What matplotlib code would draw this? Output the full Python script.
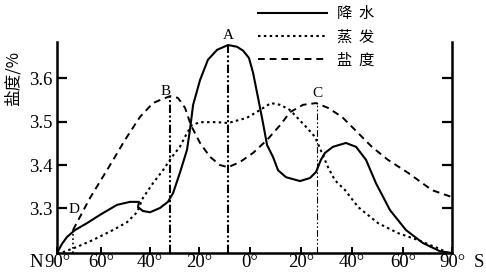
import numpy as np
import matplotlib
matplotlib.use("Agg")
import matplotlib.pyplot as plt

# latitude runs left to right: north is negative, south positive
tick_lat = [-90, -60, -40, -20, 0, 20, 40, 60, 90]
tick_labels = ["90°", "60°", "40°", "20°", "0°", "20°", "40°", "60°", "90°"]
# the printed axis is uneven (the 90-60 bands are squeezed)
tick_pos = [0, 44, 93, 142, 193, 244, 295, 346, 395]

y_ticks = [3.3, 3.4, 3.5, 3.6]

# precipitation (solid)
rain_lat = [-90, -86.6, -83.2, -77.7, -69.5, -60.7, -53.5, -48.2, -44.5, -44.9,
            -42.9, -40, -35.9, -32.7, -30.6, -27.8, -24.9, -23.7, -22.4, -19.6,
            -16.5, -12.9, -8.6, -5.1, -2.7, -0.4, 1.2, 3.1, 5.1, 6.7, 9.0, 11.0,
            14.1, 19.6, 23.5, 25.9, 27.8, 29.4, 32.5, 37.6, 41.6, 45.5,
            49.4, 54.9, 61.8, 72.2, 82.7, 90]
rain = [3.197, 3.218, 3.234, 3.250, 3.266, 3.285, 3.308, 3.315, 3.315, 3.303,
        3.294, 3.291, 3.301, 3.315, 3.335, 3.382, 3.435, 3.481, 3.539, 3.596,
        3.643, 3.666, 3.677, 3.673, 3.664, 3.647, 3.613, 3.557, 3.497, 3.446, 3.419, 3.388,
        3.372, 3.363, 3.370, 3.384, 3.412, 3.428, 3.442, 3.451, 3.442, 3.412,
        3.358, 3.296, 3.250, 3.220, 3.201, 3.197]

# evaporation (dotted)
evap_lat = [-90, -85.9, -76.4, -65.5, -55.1, -49.4, -45.3, -42.9, -38.8, -34.7,
            -31.0, -27.8, -24.9, -22.9, -19.6, -12.9, -8.6, -1.2, 3.9, 8.2,
            11.8, 15.7, 22.0, 25.5, 28.2, 30.6, 33.3, 37.3, 42.4, 50.2,
            58.0, 69.2, 81.4, 87.6]
evap = [3.197, 3.199, 3.211, 3.227, 3.250, 3.268, 3.291, 3.324, 3.358, 3.388,
        3.419, 3.442, 3.474, 3.492, 3.499, 3.499, 3.497, 3.509, 3.527, 3.543,
        3.539, 3.527, 3.488, 3.465, 3.428, 3.395, 3.365, 3.342, 3.303, 3.266,
        3.243, 3.227, 3.208, 3.197]

# salinity (dashed)
sal_lat = [-79.1, -67.5, -56.3, -50.2, -44.1, -38.8, -35.9, -31.8, -28.6, -25.7,
           -23.3, -19.6, -15.7, -11.8, -8.6, -3.9, 1.2, 6.7, 11.8, 15.7,
           20.8, 25.9, 30.6, 36.1, 41.2, 47.8, 54.1, 63.1, 77.8, 90]
sal = [3.250, 3.324, 3.400, 3.458, 3.511, 3.543, 3.550, 3.559, 3.555, 3.532,
       3.492, 3.451, 3.419, 3.400, 3.395, 3.407, 3.428, 3.458, 3.492, 3.522,
       3.539, 3.543, 3.532, 3.511, 3.481, 3.442, 3.412, 3.382, 3.342, 3.326]

mark_names = ["A", "B", "C", "D"]
mark_lat = [-8.6, -31.8, 26.3, -79.1]
mark_top = [3.677, 3.559, 3.543, 3.250]

serif = ["Liberation Serif", "DejaVu Serif"]
cjk = ["Noto Sans CJK SC", "DejaVu Sans"]


def fwd(x):
    return np.interp(x, tick_lat, tick_pos)


def inv(p):
    return np.interp(p, tick_pos, tick_lat)


fig = plt.figure(figsize=(4.86, 2.75), dpi=100)
ax = fig.add_axes([57 / 486, 22 / 275, 395 / 486, 211 / 275])
ax.set_xscale("function", functions=(fwd, inv))
ax.set_xlim(-90, 90)
ax.set_ylim(3.197, 3.684)

ax.plot(rain_lat, rain, color="black", lw=1.5, label="降  水")
ax.plot(evap_lat, evap, color="black", lw=1.5, linestyle=(0, (1.2, 1.6)), label="蒸  发")
ax.plot(sal_lat, sal, color="black", lw=1.4, linestyle=(0, (3.5, 2.5)), label="盐  度")

# guide lines down from the marked points
ybot = ax.get_ylim()[0]
styles = [(1.5, (0, (4, 1.2, 1, 1.2, 1, 1.2))),
          (1.5, (0, (4, 1.2, 1, 1.2, 1, 1.2))),
          (0.8, (0, (6, 2, 1.5, 2, 1.5, 2))),
          (1.2, (0, (1, 1.6)))]
offsets = [(0, 7), (-3, 3), (0, 7), (1, 15)]
for name, lat, top, (lw, ls), off in zip(mark_names, mark_lat, mark_top, styles, offsets):
    ax.plot([lat, lat], [ybot, top], color="black", lw=lw, linestyle=ls)
    ax.annotate(name, (lat, top), xytext=off, textcoords="offset points",
                ha="center", va="center", fontsize=11, family=serif,
                annotation_clip=False)

# axes styling
for side in ["left", "bottom", "right"]:
    ax.spines[side].set_linewidth(1.8)
ax.spines["top"].set_visible(False)

ax.set_yticks(y_ticks)
ax.set_yticklabels([f"{v:.1f}" for v in y_ticks], family=serif, fontsize=13.5)
ax.tick_params(axis="y", direction="in", length=7, width=1.6, right=True,
               labelright=False, pad=3.5)
ax.set_xticks(tick_lat)
ax.set_xticklabels(tick_labels, family=serif, fontsize=13.5)
ax.tick_params(axis="x", direction="in", length=4, width=1.4, pad=1)
ax.minorticks_off()

# hemisphere letters beside the end labels
ax.annotate("N", (-90, 0), xycoords=("data", "axes fraction"), xytext=(-10, -1),
            textcoords="offset points", ha="right", va="top", fontsize=13.5, family=serif)
ax.annotate("S", (90, 0), xycoords=("data", "axes fraction"), xytext=(16, -1),
            textcoords="offset points", ha="left", va="top", fontsize=13.5, family=serif)

fig.text(13 / 486, 1 - 78 / 275, "盐度/%", rotation=90, ha="center", va="center",
         fontsize=12, family=cjk)

ax.legend(loc="upper left", bbox_to_anchor=(258 / 486, 1 - 5 / 275),
          bbox_transform=fig.transFigure, frameon=False, borderpad=0,
          borderaxespad=0, handlelength=4.5, handletextpad=0.65,
          labelspacing=0.42, prop={"family": cjk, "size": 11})

fig.savefig("out.png", dpi=100)
